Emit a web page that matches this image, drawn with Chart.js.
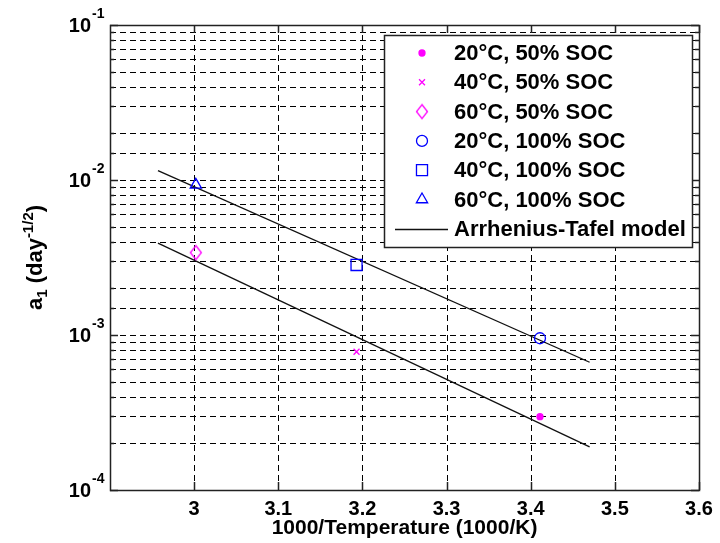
<!DOCTYPE html>
<html>
<head>
<meta charset="utf-8">
<script src="https://cdn.jsdelivr.net/npm/chart.js@4.4.1/dist/chart.umd.min.js"></script>
<style>
  html, body { margin: 0; padding: 0; background: #fff; }
  canvas { display: block; }
</style>
</head>
<body>
<canvas id="chart" width="720" height="543"></canvas>
<script>
// Capacity-fade coefficient a1 versus inverse storage temperature
const invTemperature = [3.411, 3.193, 3.002];          // 1000/K at 20, 40, 60 °C
const a1Soc50 = [0.000297, 0.00078, 0.0034];           // 50 % SOC
const a1Soc100 = [0.000953, 0.00283, 0.0093];          // 100 % SOC
const seriesLabels = [
  '20°C, 50% SOC', '40°C, 50% SOC', '60°C, 50% SOC',
  '20°C, 100% SOC', '40°C, 100% SOC', '60°C, 100% SOC'
];
const modelLabel = 'Arrhenius-Tafel model';
const modelInvTemperature = [2.957, 3.470];            // fitted model, 65 °C down to 15 °C
const modelSoc50 = [0.00391, 0.00019];
const modelSoc100 = [0.01148, 0.000667];
const xTickValues = [3, 3.1, 3.2, 3.3, 3.4, 3.5, 3.6];
const yDecadeExponents = [-4, -3, -2, -1];
const xAxisTitle = '1000/Temperature (1000/K)';
const yAxisTitleParts = [
  { text: 'a', kind: 'main' },
  { text: '1', kind: 'sub' },
  { text: ' (day', kind: 'main' },
  { text: '-1/2', kind: 'sup' },
  { text: ')', kind: 'main' }
];

const FONT = "'Liberation Sans', Arial, Helvetica, sans-serif";
const MAGENTA = '#ff00ff';
const BLUE = '#0000ff';

// open diamond marker, a little taller than wide
function makeDiamond(color) {
  const c = document.createElement('canvas');
  c.width = 14; c.height = 18;
  const g = c.getContext('2d');
  g.strokeStyle = color;
  g.lineWidth = 1.3;
  g.beginPath();
  g.moveTo(7, 2); g.lineTo(12.5, 9); g.lineTo(7, 16); g.lineTo(1.5, 9);
  g.closePath();
  g.stroke();
  return c;
}

const markerStyles = [
  { pointStyle: 'circle', radius: 3, fill: MAGENTA, stroke: MAGENTA },
  { pointStyle: 'crossRot', radius: 4.2, fill: 'rgba(0,0,0,0)', stroke: MAGENTA },
  { pointStyle: makeDiamond(MAGENTA), radius: 7, fill: 'rgba(0,0,0,0)', stroke: MAGENTA },
  { pointStyle: 'circle', radius: 5.5, fill: 'rgba(0,0,0,0)', stroke: BLUE },
  { pointStyle: 'rect', radius: 7.8, fill: 'rgba(0,0,0,0)', stroke: BLUE },
  { pointStyle: 'triangle', radius: 6.5, fill: 'rgba(0,0,0,0)', stroke: BLUE }
];

const markerValues = [
  a1Soc50[0], a1Soc50[1], a1Soc50[2],
  a1Soc100[0], a1Soc100[1], a1Soc100[2]
];

const datasets = seriesLabels.map((label, i) => ({
  label,
  data: [{ x: invTemperature[i % 3], y: markerValues[i] }],
  pointStyle: markerStyles[i].pointStyle,
  pointRadius: markerStyles[i].radius,
  backgroundColor: markerStyles[i].fill,
  borderColor: markerStyles[i].stroke,
  borderWidth: 1.3,
  showLine: false,
  order: 1
}));

[modelSoc100, modelSoc50].forEach((vals) => {
  datasets.push({
    label: modelLabel,
    data: modelInvTemperature.map((x, j) => ({ x, y: vals[j] })),
    showLine: true,
    borderColor: '#111',
    borderWidth: 1.3,
    pointRadius: 0,
    fill: false,
    order: 2
  });
});

const crisp = v => Math.round(v) + 0.5;

const matlabAxes = {
  id: 'matlabAxes',
  beforeDatasetsDraw(chart) {
    const { ctx, chartArea: a, scales: { x, y } } = chart;
    ctx.save();
    ctx.strokeStyle = '#000';
    ctx.lineWidth = 1;
    ctx.setLineDash([6, 4]);
    y.ticks.forEach(t => {
      const py = y.getPixelForValue(t.value);
      if (py <= a.top + 1 || py >= a.bottom - 1) return;
      ctx.beginPath();
      ctx.moveTo(a.left, crisp(py));
      ctx.lineTo(a.right, crisp(py));
      ctx.stroke();
    });
    x.ticks.forEach(t => {
      const px = x.getPixelForValue(t.value);
      if (px <= a.left + 1 || px >= a.right - 1) return;
      ctx.beginPath();
      ctx.moveTo(crisp(px), a.top);
      ctx.lineTo(crisp(px), a.bottom);
      ctx.stroke();
    });
    ctx.restore();
  },
  afterDatasetsDraw(chart) {
    const { ctx, chartArea: a, scales: { x, y } } = chart;
    ctx.save();
    ctx.strokeStyle = '#222';
    ctx.lineWidth = 1.5;
    ctx.setLineDash([]);
    // inside tick marks
    x.ticks.forEach(t => {
      const px = crisp(x.getPixelForValue(t.value));
      ctx.beginPath();
      ctx.moveTo(px, a.bottom); ctx.lineTo(px, a.bottom - 8);
      ctx.moveTo(px, a.top); ctx.lineTo(px, a.top + 8);
      ctx.stroke();
    });
    y.ticks.forEach(t => {
      const py = crisp(y.getPixelForValue(t.value));
      const major = Math.abs(Math.log10(t.value) - Math.round(Math.log10(t.value))) < 1e-9;
      const len = major ? 8 : 4;
      ctx.beginPath();
      ctx.moveTo(a.left, py); ctx.lineTo(a.left + len, py);
      ctx.moveTo(a.right, py); ctx.lineTo(a.right - len, py);
      ctx.stroke();
    });
    // axes frame
    ctx.strokeRect(crisp(a.left), crisp(a.top), Math.round(a.right - a.left), Math.round(a.bottom - a.top));

    // decade labels 10^n
    ctx.fillStyle = '#000';
    yDecadeExponents.forEach(e => {
      const py = y.getPixelForValue(Math.pow(10, e));
      ctx.font = 'bold 20px ' + FONT;
      ctx.textAlign = 'right';
      ctx.textBaseline = 'alphabetic';
      ctx.fillText('10', 91, py + 7.2);
      ctx.font = 'bold 14px ' + FONT;
      ctx.textAlign = 'left';
      ctx.fillText(String(e), 92, py - 7);
    });

    // rotated y title with subscript and superscript
    const fontFor = k => (k === 'main' ? 'bold 22px ' : 'bold 15px ') + FONT;
    let total = 0;
    yAxisTitleParts.forEach(p => { ctx.font = fontFor(p.kind); total += ctx.measureText(p.text).width; });
    ctx.translate(42, (a.top + a.bottom) / 2);
    ctx.rotate(-Math.PI / 2);
    ctx.textAlign = 'left';
    ctx.textBaseline = 'alphabetic';
    let cx = -total / 2;
    yAxisTitleParts.forEach(p => {
      ctx.font = fontFor(p.kind);
      const dy = p.kind === 'sub' ? 5 : p.kind === 'sup' ? -9 : 0;
      ctx.fillText(p.text, cx, dy);
      cx += ctx.measureText(p.text).width;
    });
    ctx.restore();
  }
};

const insideLegend = {
  id: 'insideLegend',
  afterDraw(chart, args, opts) {
    const { ctx } = chart;
    const box = opts.box;
    ctx.save();
    ctx.fillStyle = '#fff';
    ctx.fillRect(box.left, box.top, box.right - box.left, box.bottom - box.top);
    ctx.strokeStyle = '#222';
    ctx.lineWidth = 1.5;
    ctx.strokeRect(crisp(box.left), crisp(box.top), Math.round(box.right - box.left), Math.round(box.bottom - box.top));

    const entries = chart.data.datasets.slice(0, seriesLabels.length + 1);
    entries.forEach((ds, i) => {
      const cy = box.top + 18 + i * opts.rowHeight;
      if (ds.showLine) {
        ctx.strokeStyle = ds.borderColor;
        ctx.lineWidth = ds.borderWidth;
        ctx.beginPath();
        ctx.moveTo(box.left + 11, crisp(cy));
        ctx.lineTo(box.left + 64, crisp(cy));
        ctx.stroke();
      } else {
        ctx.fillStyle = ds.backgroundColor;
        ctx.strokeStyle = ds.borderColor;
        ctx.lineWidth = ds.borderWidth;
        Chart.helpers.drawPoint(ctx, {
          pointStyle: ds.pointStyle,
          radius: ds.pointRadius,
          rotation: 0,
          borderWidth: ds.borderWidth
        }, box.left + 38, cy);
      }
      ctx.fillStyle = '#000';
      ctx.font = 'bold 22px ' + FONT;
      ctx.textAlign = 'left';
      ctx.textBaseline = 'middle';
      ctx.fillText(ds.label, box.left + 70, cy + 1, box.right - box.left - 76);
    });
    ctx.restore();
  }
};

new Chart(document.getElementById('chart'), {
  type: 'scatter',
  data: { datasets },
  plugins: [matlabAxes, insideLegend],
  options: {
    responsive: false,
    animation: false,
    devicePixelRatio: 1,
    layout: { padding: { left: 0, top: 25, right: 21, bottom: 0 } },
    plugins: {
      legend: { display: false },
      tooltip: { enabled: false },
      insideLegend: { box: { left: 384, top: 35, right: 692, bottom: 247 }, rowHeight: 29.3 }
    },
    scales: {
      x: {
        type: 'linear',
        min: 2.9,
        max: 3.6,
        afterBuildTicks: s => { s.ticks = xTickValues.map(v => ({ value: v })); },
        afterFit: s => { s.height = 53; },
        grid: { display: false, drawTicks: false },
        border: { display: false },
        ticks: {
          color: '#000',
          font: { family: FONT, size: 20, weight: 'bold' },
          padding: 7,
          maxRotation: 0,
          autoSkip: false,
          callback: v => String(v)
        },
        title: {
          display: true,
          text: xAxisTitle,
          color: '#000',
          font: { family: FONT, size: 21, weight: 'bold' },
          padding: { top: 0, bottom: 2 }
        }
      },
      y: {
        type: 'logarithmic',
        min: 1e-4,
        max: 1e-1,
        afterFit: s => { s.width = 110; },
        grid: { display: false, drawTicks: false },
        border: { display: false },
        ticks: { display: false }
      }
    }
  }
});
</script>
</body>
</html>
